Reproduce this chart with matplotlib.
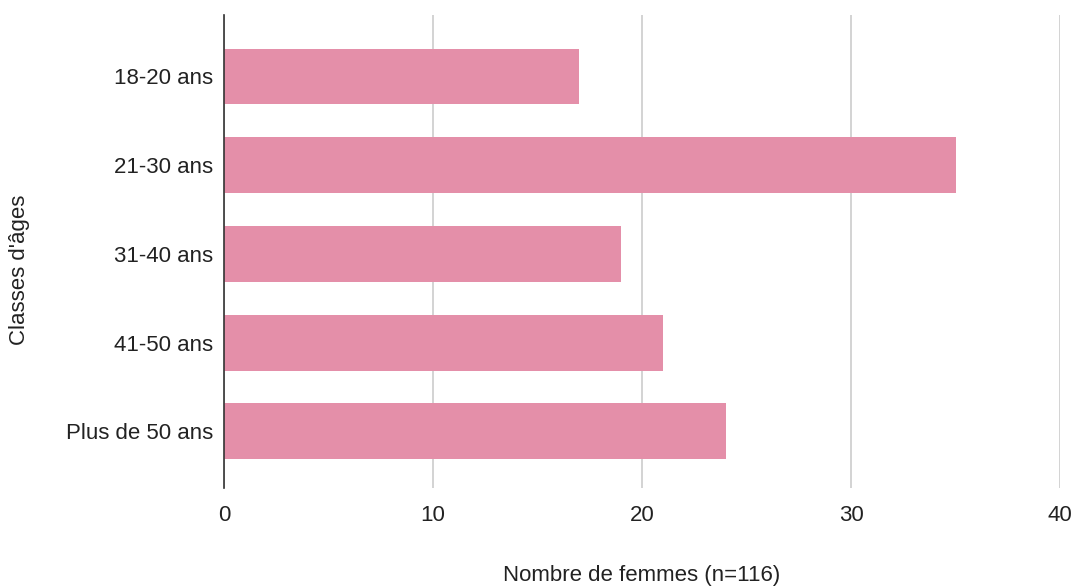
import matplotlib.pyplot as plt

# Répartition des femmes par classe d'âge
categories = ["18-20 ans", "21-30 ans", "31-40 ans", "41-50 ans", "Plus de 50 ans"]
counts = [17, 35, 19, 21, 24]
x_ticks = [0, 10, 20, 30, 40]

plt.rcParams["font.family"] = ["Liberation Sans", "DejaVu Sans"]

fig = plt.figure(figsize=(10.74, 5.86), dpi=100)
ax = fig.add_axes([0.2086, 0.167, 0.7784, 0.807])

positions = list(range(len(categories)))
ax.barh(positions, counts, height=0.63, color="#E48FA9", zorder=3)

ax.set_xlim(0, 40)
ax.set_ylim(4.64, -0.69)
ax.set_xticks(x_ticks)
ax.set_yticks(positions)
ax.set_yticklabels(categories)
ax.tick_params(axis="both", length=0, labelsize=16, colors="#222222")
ax.tick_params(axis="x", pad=12)
ax.tick_params(axis="y", pad=8)

ax.grid(axis="x", color="#cccccc", linewidth=1.2, zorder=0)
for s in ["top", "right", "bottom"]:
    ax.spines[s].set_visible(False)
ax.spines["left"].set_color("#333333")
ax.spines["left"].set_linewidth(1.2)
ax.spines["left"].set_zorder(4)

fig.text(642 / 1074, 1 - 575 / 586, "Nombre de femmes (n=116)", fontsize=16,
         color="#222222", ha="center", va="center")
fig.text(20 / 1074, 1 - 270 / 586, "Classes d'âges", fontsize=16,
         color="#222222", ha="center", va="center", rotation=90)

fig.savefig("out.png", dpi=100)
